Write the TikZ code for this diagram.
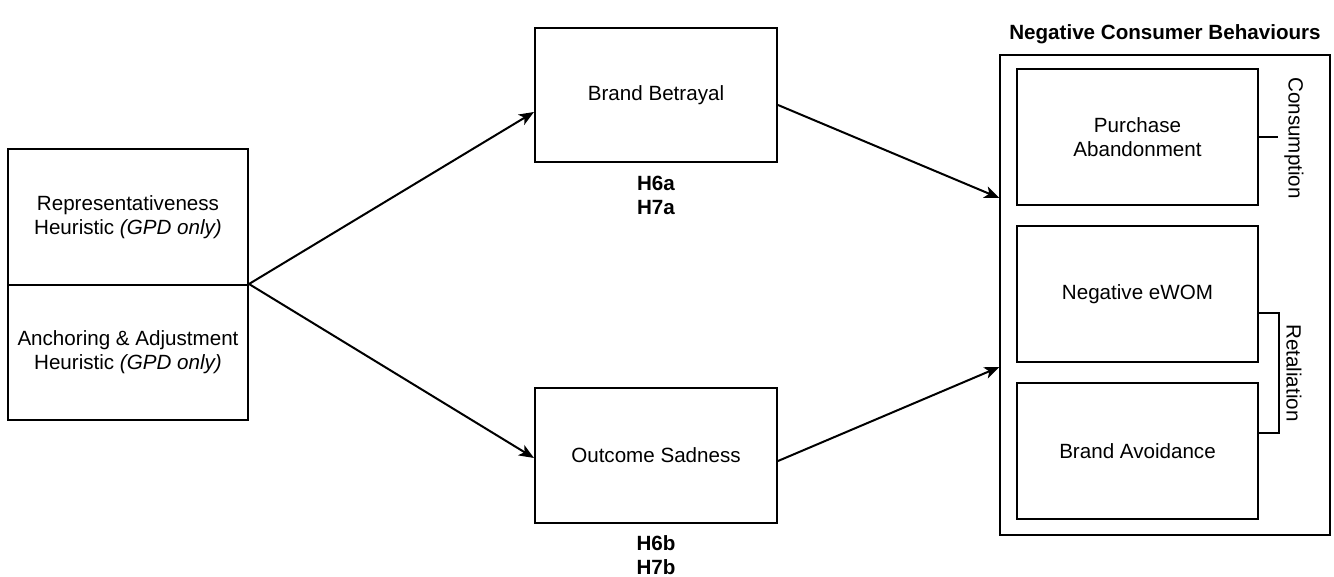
\documentclass[tikz,border=0pt]{standalone}
\usepackage{fontspec}
\setmainfont{Liberation Sans}
\usetikzlibrary{positioning,arrows.meta}

\begin{document}
\begin{tikzpicture}[x=0.5pt,y=-0.5pt,line width=1.0pt,
  font=\fontsize{10.3}{12}\selectfont,
  box/.style={draw,rectangle,align=center,inner sep=0pt},
  hyp/.style={align=center,font=\fontsize{10.3}{12}\selectfont\bfseries},
  arr/.style={-{Stealth[length=7.5pt,width=6pt,inset=2pt]}}]
\useasboundingbox (0,0) rectangle (1334,577);
% heuristics (left)
\node[box,minimum width=120pt,minimum height=68pt] (rep) at (128,217) {Representativeness\\Heuristic \textit{(GPD only)}};
\node[box,minimum width=120pt,minimum height=67.5pt] (anc) at (128,352.5) {Anchoring \& Adjustment\\Heuristic \textit{(GPD only)}};
% mediators
\node[box,minimum width=121pt,minimum height=67pt] (bet) at (656,95) {Brand Betrayal};
\node[box,minimum width=121pt,minimum height=67.5pt] (sad) at (656,455.5) {Outcome Sadness};
\node[hyp,below=2.5pt of bet] (hbet) {H6a\\H7a};
\node[hyp,below=2pt of sad] (hsad) {H6b\\H7b};
% negative consumer behaviours (right)
\node[box,line width=0.6pt,minimum width=165pt,minimum height=240pt] (out) at (1165,295) {};
\node[hyp,above=1.5pt of out] (title) {Negative Consumer Behaviours};
\node[box,minimum width=120.5pt,minimum height=68pt] (pur) at (1137.5,137) {Purchase\\Abandonment};
\node[box,minimum width=120.5pt,minimum height=68pt] (ewom) at (1137.5,294) {Negative eWOM};
\node[box,minimum width=120.5pt,minimum height=68pt] (avo) at (1137.5,451) {Brand Avoidance};
% groupings
\draw (pur.east) -- ++(9.5pt,0);
\node[rotate=-90] (cons) at (1294,138) {Consumption};
\draw ([yshift=-9.5pt]ewom.east) -- ++(10pt,0) |- ([yshift=9pt]avo.east);
\node[rotate=-90] (ret) at (1294,373) {Retaliation};
% paths
\draw[arr] (anc.north east) -- ([yshift=-8.5pt]bet.west);
\draw[arr] (anc.north east) -- ([yshift=-1.25pt]sad.west);
\draw[arr] ([yshift=-5pt]bet.east) -- ([yshift=48.5pt]out.west);
\draw[arr] ([yshift=-2.75pt]sad.east) -- ([yshift=-36pt]out.west);
\end{tikzpicture}
\end{document}
